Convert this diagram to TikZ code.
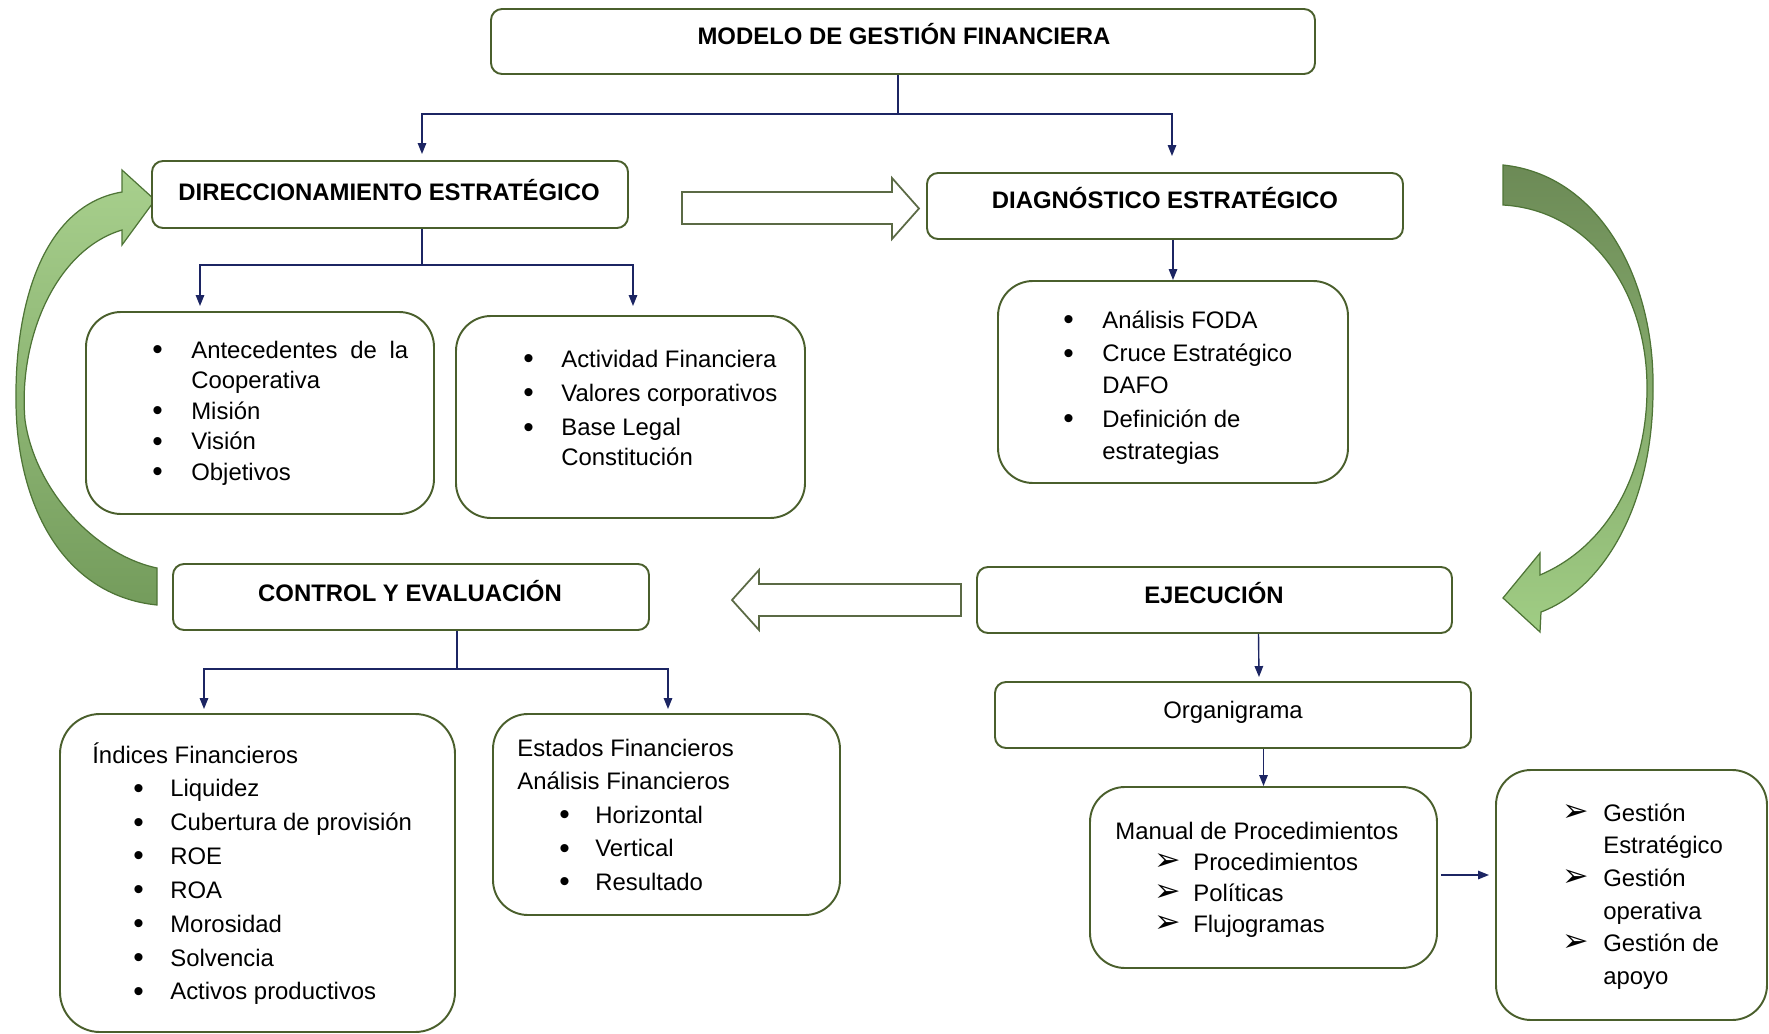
\documentclass[tikz,border=0pt]{standalone}
\usepackage{fontspec}
\setmainfont{Liberation Sans}
\newfontfamily\symf{DejaVu Sans}
\usetikzlibrary{arrows.meta,calc,fit}
\definecolor{boxline}{HTML}{4A5F2C}
\definecolor{navy}{HTML}{1C2563}
\definecolor{hollowline}{HTML}{5B6A45}
\definecolor{greenedge}{HTML}{4E7436}
\definecolor{lgA}{RGB}{168,208,141}
\definecolor{lgB}{RGB}{116,156,92}
\definecolor{rgA}{RGB}{108,138,86}
\definecolor{rgB}{RGB}{160,205,132}
\newcommand{\flecha}{{\symf\fontsize{18}{18}\selectfont ➢}}
\newcommand{\punto}{\raisebox{-0.8pt}{\fontsize{17}{17}\selectfont\textbullet}}
\begin{document}
\begin{tikzpicture}[x=0.02cm,y=-0.02cm,
  rbox/.style={draw=boxline, line width=1.1pt, fill=white, inner sep=0pt, rounded corners=#1},
  rbox/.default=0.22cm,
  head/.style={inner sep=0pt, anchor=base, font=\bfseries\fontsize{13.6}{16}\selectfont},
  plain/.style={inner sep=0pt, anchor=base, font=\fontsize{13.6}{16}\selectfont},
  lst/.style={inner sep=0pt, anchor=base west},
  conn/.style={draw=navy, line width=0.8pt},
  arr/.style={conn, -{Triangle[length=0.22cm,width=0.17cm]}},
  hollow/.style={draw=hollowline, line width=1pt, fill=white, line join=miter},
  curvearrow/.style={draw=greenedge, line width=0.7pt, line join=miter}]

\useasboundingbox (0,0) rectangle (1769,1034);

% curved return arrows
\path[curvearrow, top color=lgA, bottom color=lgB]
  (157,568) .. controls (95,555) and (35,490) .. (25,420)
  .. controls (18,340) and (55,250) .. (122,230)
  -- (122,245) -- (155,200) -- (122,170) -- (122,192)
  .. controls (45,205) and (15,300) .. (16,400)
  .. controls (16,500) and (60,595) .. (157,605) -- cycle;
\path[curvearrow, top color=rgA, bottom color=rgB]
  (1503,165) .. controls (1600,175) and (1655,280) .. (1653,390)
  .. controls (1653,510) and (1600,590) .. (1541,612)
  -- (1540,632) -- (1503,598) -- (1540,553) -- (1540,575)
  .. controls (1610,545) and (1648,470) .. (1647,385)
  .. controls (1646,290) and (1590,210) .. (1503,205) -- cycle;

% block arrows between stages
\draw[hollow] (682,192) -- (892,192) -- (892,178) -- (919,208.5) -- (892,239) -- (892,224) -- (682,224) -- cycle;
\draw[hollow] (961,584) -- (759,584) -- (759,570) -- (732,600) -- (759,630) -- (759,616) -- (961,616) -- cycle;

% frames
\node[rbox, fit={(491,9) (1315,74)}] (top) {};
\node[rbox, fit={(152,161) (628,228)}] (dir) {};
\node[rbox, fit={(927,173) (1403,239)}] (diag) {};
\node[rbox=0.7cm, fit={(86,312) (434,514)}] (boxA) {};
\node[rbox=0.7cm, fit={(456,316) (805,518)}] (boxB) {};
\node[rbox=0.7cm, fit={(998,281) (1348,483)}] (boxC) {};
\node[rbox, fit={(173,564) (649,630)}] (ctrl) {};
\node[rbox, fit={(977,567) (1452,633)}] (ejec) {};
\node[rbox=0.8cm, fit={(60,714) (455,1032)}] (boxD) {};
\node[rbox=0.7cm, fit={(493,714) (840,915)}] (boxE) {};
\node[rbox, fit={(995,682) (1471,748)}] (org) {};
\node[rbox=0.7cm, fit={(1090,787) (1437,968)}] (man) {};
\node[rbox=0.7cm, fit={(1496,770) (1767,1020)}] (boxF) {};

% headings
\node[head] (topt) at (904,45) {MODELO DE GESTIÓN FINANCIERA};
\node[head] (dirt) at (389,200) {DIRECCIONAMIENTO ESTRATÉGICO};
\node[head] (diagt) at (1165,209) {DIAGNÓSTICO ESTRATÉGICO};
\node[head] (ctrlt) at (410,601) {CONTROL Y EVALUACIÓN};
\node[head] (eject) at (1214,603) {EJECUCIÓN};
\node[plain] (orgt) at (1233,718) {Organigrama};

% lists
\node[lst, font=\fontsize{13.6}{17.43}\selectfont] (tA) at (152,358) {%
\begin{tabular}[t]{@{}p{0.78cm}@{}l@{}}
\punto & \makebox[4.34cm][s]{Antecedentes de la}\\
 & Cooperativa\\
\punto & Misión\\
\punto & Visión\\
\punto & Objetivos
\end{tabular}};
\node[lst, font=\fontsize{13.6}{17.0}\selectfont] (tB) at (523,367) {%
\begin{tabular}[t]{@{}p{0.76cm}@{}l@{}}
\punto & Actividad Financiera\\[2.55pt]
\punto & Valores corporativos\\[2.55pt]
\punto & Base Legal\\
 & Constitución
\end{tabular}};
\node[lst, font=\fontsize{13.6}{18.14}\selectfont] (tC) at (1063,328) {%
\begin{tabular}[t]{@{}p{0.78cm}@{}l@{}}
\punto & Análisis FODA\\[1.13pt]
\punto & Cruce Estratégico\\
 & DAFO\\[1.13pt]
\punto & Definición de\\
 & estrategias
\end{tabular}};
\node[lst, font=\fontsize{13.6}{19.27}\selectfont] (tD) at (92,763) {%
\begin{tabular}[t]{@{}p{0.82cm}@{}p{0.74cm}@{}l@{}}
\multicolumn{3}{@{}l@{}}{Índices Financieros}\\
 & \punto & Liquidez\\
 & \punto & Cubertura de provisión\\
 & \punto & ROE\\
 & \punto & ROA\\
 & \punto & Morosidad\\
 & \punto & Solvencia\\
 & \punto & Activos productivos
\end{tabular}};
\node[lst, font=\fontsize{13.6}{19.13}\selectfont] (tE) at (517,756) {%
\begin{tabular}[t]{@{}p{0.84cm}@{}p{0.72cm}@{}l@{}}
\multicolumn{3}{@{}l@{}}{Estados Financieros}\\
\multicolumn{3}{@{}l@{}}{Análisis Financieros}\\
 & \punto & Horizontal\\
 & \punto & Vertical\\
 & \punto & Resultado
\end{tabular}};
\node[lst, font=\fontsize{13.6}{17.76}\selectfont] (tM) at (1115,839) {%
\begin{tabular}[t]{@{}p{0.78cm}@{}p{0.78cm}@{}l@{}}
\multicolumn{3}{@{}l@{}}{Manual de Procedimientos}\\
 & \flecha & Procedimientos\\
 & \flecha & Políticas\\
 & \flecha & Flujogramas
\end{tabular}};
\node[lst, font=\fontsize{13.6}{18.6}\selectfont] (tF) at (1562,821) {%
\begin{tabular}[t]{@{}p{0.82cm}@{}l@{}}
\flecha & Gestión\\
 & Estratégico\\
\flecha & Gestión\\
 & operativa\\
\flecha & Gestión de\\
 & apoyo
\end{tabular}};

% connectors
\coordinate (j0) at (898,114);
\draw[conn] (top.south -| j0) -- (j0);
\draw[arr] (j0) -| ($(dir.north)+(32,-6)$);
\draw[arr] (j0) -| ($(diag.north)+(7,-16)$);

\coordinate (j1) at (422,265);
\draw[conn] (dir.south -| j1) -- (j1);
\draw[arr] (j1) -| ($(boxA.north)+(-60,-5)$);
\draw[arr] (j1) -| ($(boxB.north)+(2.5,-9)$);

\draw[arr] (diag.south -| boxC.north) -- (boxC.north);

\coordinate (j2) at (457,669);
\draw[conn] (ctrl.south -| j2) -- (j2);
\draw[arr] (j2) -| ($(boxD.north)+(-53.5,-4)$);
\draw[arr] (j2) -| ($(boxE.north)+(1.5,-4)$);

\draw[arr] ($(ejec.south)+(44,0)$) -- ($(org.north)+(26,-4)$);
\draw[arr] (org.south -| man.north) -- (man.north);
\draw[arr] ($(man.east)+(3,-2.5)$) -- ($(boxF.west |- man.east)+(-6,-2.5)$);

\end{tikzpicture}
\end{document}
